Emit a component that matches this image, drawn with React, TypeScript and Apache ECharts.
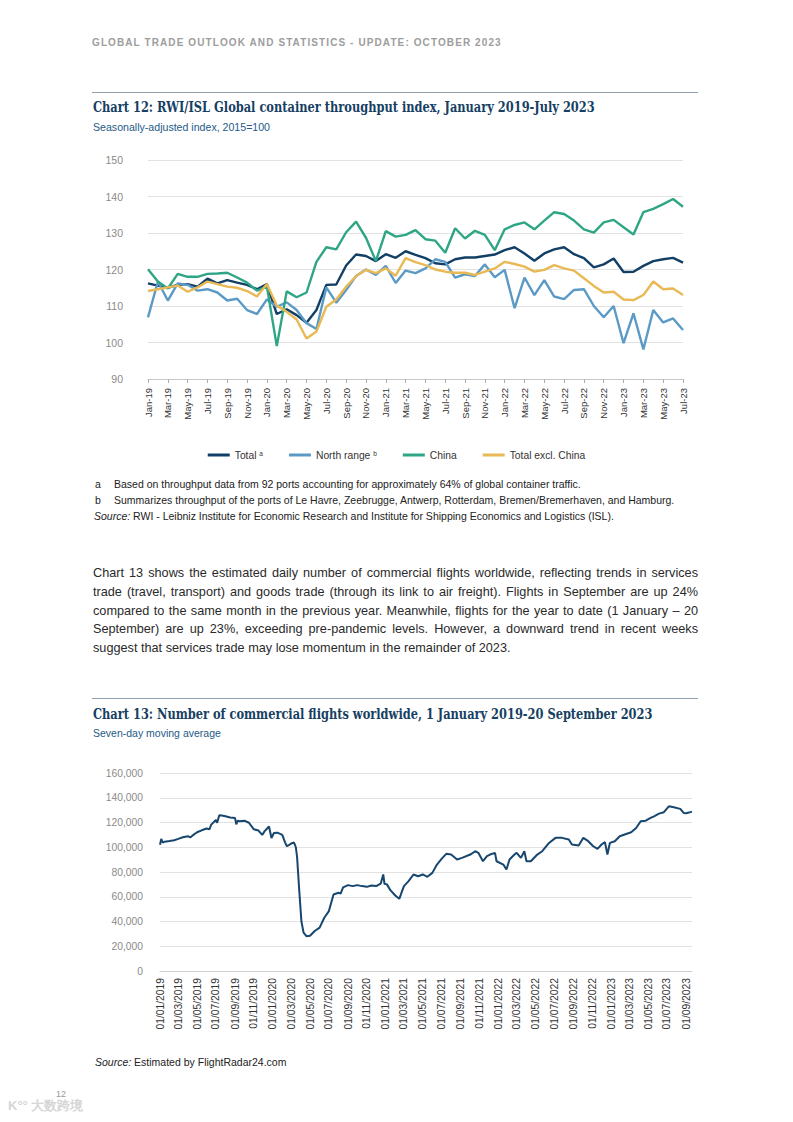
import React, { useEffect, useRef } from 'react';
import * as echarts from 'echarts';

// ---------- Chart 12 data ----------
const monthNames = ['Jan', 'Feb', 'Mar', 'Apr', 'May', 'Jun', 'Jul', 'Aug', 'Sep', 'Oct', 'Nov', 'Dec'];
const throughputMonths: string[] = [];
for (let y = 2019; y <= 2023; y++) {
  for (let m = 0; m < 12; m++) {
    if (y === 2023 && m > 6) break;
    throughputMonths.push(`${monthNames[m]}-${String(y).slice(2)}`);
  }
}
const throughputTicks = [90, 100, 110, 120, 130, 140, 150];

const totalSeries = [116.2, 115.6, 115.0, 115.8, 116.0, 115.3, 117.5, 116.2, 117.1, 116.4, 115.8, 114.6, 116.0,
  107.8, 109.1, 107.5, 105.4, 108.9, 115.8, 115.9, 121.1, 124.1, 123.7, 122.3, 124.2, 123.2,
  125.0, 124.0, 123.1, 121.7, 121.4, 122.8, 123.3, 123.3, 123.7, 124.1, 125.3, 126.1, 124.4,
  122.4, 124.4, 125.5, 126.1, 124.2, 123.1, 120.6, 121.4, 123.0, 119.3, 119.4, 121.0, 122.3, 122.8, 123.2, 121.9];

const northRangeSeries = [106.9, 116.7, 111.5, 116.2, 115.8, 114.2, 114.6, 113.7, 111.5, 112.0, 108.9, 107.8, 111.8,
  109.8, 111.0, 108.9, 105.3, 103.7, 115.1, 110.9, 114.4, 118.2, 120.0, 118.5, 121.0, 116.3,
  119.7, 119.0, 120.3, 122.8, 122.1, 117.8, 118.7, 118.2, 121.4, 117.9, 119.9, 109.4, 117.8,
  113.0, 117.1, 112.6, 111.9, 114.4, 114.6, 110.0, 106.9, 110.0, 99.8, 108.0, 98.1, 108.9, 105.5, 106.6, 103.4];

const chinaSeries = [120.1, 116.7, 114.8, 118.8, 118.0, 118.0, 118.8, 118.9, 119.1, 117.8, 116.4, 114.2, 115.3,
  99.0, 114.0, 112.4, 113.7, 122.1, 126.1, 125.5, 130.2, 133.1, 128.7, 122.3, 130.5, 129.0,
  129.5, 130.8, 128.3, 127.9, 124.6, 131.3, 128.5, 130.6, 129.5, 125.3, 131.0, 132.2, 132.9,
  131.0, 133.4, 135.7, 135.2, 133.4, 131.0, 130.1, 132.9, 133.6, 131.6, 129.6, 135.7, 136.6, 137.9, 139.3, 137.2];

const exChinaSeries = [114.1, 114.6, 115.1, 115.6, 113.9, 115.1, 116.7, 116.0, 115.3, 115.0, 114.1, 112.6, 116.0,
  110.1, 108.4, 106.3, 101.1, 103.0, 109.8, 111.8, 115.3, 118.2, 119.9, 119.0, 120.3, 118.3,
  123.1, 122.0, 121.2, 120.0, 119.4, 119.1, 119.1, 118.5, 119.4, 120.3, 122.1, 121.5, 120.8,
  119.4, 119.9, 121.2, 120.3, 119.7, 117.6, 115.5, 113.7, 113.9, 111.8, 111.6, 113.0, 116.7, 114.6, 114.8, 113.0];

// ---------- Chart 13 data ----------
const flightDates = [
  '2019-01-01', '2019-01-05', '2019-01-10', '2019-01-16', '2019-02-01', '2019-02-16', '2019-03-01', '2019-03-16',
  '2019-04-01', '2019-04-10', '2019-04-16', '2019-05-01', '2019-05-16', '2019-06-01', '2019-06-10', '2019-06-16',
  '2019-07-01', '2019-07-05', '2019-07-12', '2019-07-20', '2019-08-01', '2019-08-16', '2019-09-01', '2019-09-05',
  '2019-09-10', '2019-09-16', '2019-10-01', '2019-10-16', '2019-11-01', '2019-11-16', '2019-11-28', '2019-12-06',
  '2019-12-20', '2019-12-28', '2020-01-05', '2020-01-16', '2020-02-01', '2020-02-10', '2020-02-16', '2020-03-01',
  '2020-03-10', '2020-03-16', '2020-03-20', '2020-03-27', '2020-04-03', '2020-04-10', '2020-04-20', '2020-05-01',
  '2020-05-16', '2020-06-01', '2020-06-16', '2020-07-01', '2020-07-16', '2020-08-01', '2020-08-08', '2020-08-16',
  '2020-09-01', '2020-09-16', '2020-10-01', '2020-10-16', '2020-11-01', '2020-11-16', '2020-12-01', '2020-12-16',
  '2020-12-24', '2020-12-28', '2021-01-05', '2021-01-16', '2021-02-01', '2021-02-14', '2021-02-23', '2021-03-01',
  '2021-03-16', '2021-04-01', '2021-04-16', '2021-05-01', '2021-05-16', '2021-06-01', '2021-06-16', '2021-07-01',
  '2021-07-16', '2021-08-01', '2021-08-20', '2021-09-05', '2021-10-02', '2021-10-18', '2021-10-28', '2021-11-12',
  '2021-11-25', '2021-12-05', '2021-12-21', '2021-12-26', '2022-01-17', '2022-01-27', '2022-02-06', '2022-02-22',
  '2022-03-01', '2022-03-15', '2022-03-26', '2022-04-02', '2022-04-16', '2022-05-07', '2022-05-23', '2022-06-14',
  '2022-07-05', '2022-07-26', '2022-08-17', '2022-08-27', '2022-09-18', '2022-10-03', '2022-10-19', '2022-11-04',
  '2022-11-18', '2022-12-01', '2022-12-12', '2022-12-20', '2022-12-28', '2023-01-13', '2023-01-29', '2023-02-14',
  '2023-03-07', '2023-03-23', '2023-04-07', '2023-04-23', '2023-05-09', '2023-05-20', '2023-06-05', '2023-06-21',
  '2023-07-07', '2023-07-23', '2023-08-13', '2023-08-24', '2023-09-01', '2023-09-10', '2023-09-20'];

const flightValues = [
  102000, 106800, 103800, 104500, 105000, 105700, 106800, 108100,
  108900, 108000, 109400, 112100, 113700, 115100, 114500, 118300,
  122000, 119800, 125800, 125600, 125000, 124000, 123700, 118500,
  121500, 121000, 121500, 119800, 114500, 113500, 110000, 113000,
  116800, 107500, 111500, 111800, 110000, 104000, 100800, 103000,
  103800, 100000, 92000, 65000, 40000, 31000, 28000, 28500,
  32300, 35000, 43000, 48400, 61800, 63200, 62500, 67500,
  69400, 68600, 69400, 68600, 68000, 69100, 68600, 70700,
  78000, 70500, 70000, 65300, 61000, 58300, 64500, 68600,
  72600, 78000, 76600, 78000, 76100, 79300, 86000, 90600,
  94700, 94100, 90100, 91400, 94100, 96800, 95500, 88700,
  92800, 94100, 95500, 88700, 86000, 82000, 90100, 94100,
  95500, 91400, 96800, 88700, 88700, 94100, 96800, 103500,
  107600, 107600, 106200, 102200, 101400, 107600, 104900, 100800,
  98700, 102200, 104100, 94100, 103500, 104900, 108900, 110300,
  112100, 115600, 121000, 121500, 123700, 125000, 127200, 128300,
  133100, 132300, 131000, 127700, 127500, 128000, 128800];
const flightTicks = [0, 20000, 40000, 60000, 80000, 100000, 120000, 140000, 160000];

const SANS = "'Liberation Sans', Arial, Helvetica, sans-serif";
const TITLE = "'DejaVu Serif Condensed', 'DejaVu Serif', 'Liberation Serif', serif";

function buildDaily() {
  const cats: string[] = [];
  const keys: string[] = [];
  const start = Date.UTC(2019, 0, 1);
  const end = Date.UTC(2023, 8, 20);
  for (let t = start; t <= end; t += 86400000) {
    const d = new Date(t);
    const yyyy = d.getUTCFullYear();
    const mm = String(d.getUTCMonth() + 1).padStart(2, '0');
    const dd = String(d.getUTCDate()).padStart(2, '0');
    cats.push(`${dd}/${mm}/${yyyy}`);
    keys.push(`${yyyy}-${mm}-${dd}`);
  }
  const map: Record<string, number> = {};
  flightDates.forEach((k, i) => { map[k] = flightValues[i]; });
  const data = keys.map((k) => (k in map ? map[k] : null));
  return { cats, data };
}

function Chart12() {
  const ref = useRef<HTMLDivElement>(null);
  useEffect(() => {
    const chart = echarts.init(ref.current!, null, { renderer: 'svg' });
    const mk = (name: string, data: number[], color: string) => ({
      name, type: 'line', data, symbol: 'none', showSymbol: false,
      lineStyle: { color, width: 2.4 }, itemStyle: { color },
    });
    chart.setOption({
      animation: false,
      grid: { left: 148, right: 110, top: 10, bottom: 91 },
      legend: {
        left: 'center', top: 295, itemWidth: 22, itemHeight: 3, itemGap: 26, icon: 'rect',
        data: ['Total', 'North range', 'China', 'Total excl. China'],
        formatter: (n: string) => (n === 'Total' ? 'Total {sup|a}' : n === 'North range' ? 'North range {sup|b}' : n),
        textStyle: {
          fontFamily: SANS, fontSize: 10.3, color: '#333',
          rich: { sup: { fontSize: 6.5, verticalAlign: 'top', color: '#333', fontFamily: SANS } },
        },
      },
      xAxis: {
        type: 'category', data: throughputMonths, boundaryGap: false,
        axisLine: { lineStyle: { color: '#c8c8c8' } },
        axisTick: { show: true, interval: 1, length: 4, lineStyle: { color: '#b0b0b0' } },
        axisLabel: { interval: 1, rotate: 90, fontSize: 9.5, color: '#333', fontFamily: SANS, margin: 9 },
      },
      yAxis: {
        type: 'value', min: throughputTicks[0], max: throughputTicks[throughputTicks.length - 1], interval: 10,
        axisLine: { show: false }, axisTick: { show: false },
        splitLine: { lineStyle: { color: '#e2e2e2', width: 1 } },
        axisLabel: { fontSize: 10.5, color: '#8a8a8a', fontFamily: SANS, margin: 25 },
      },
      series: [
        mk('Total', totalSeries, '#123f66'),
        mk('North range', northRangeSeries, '#5c9ac6'),
        mk('China', chinaSeries, '#2ea585'),
        mk('Total excl. China', exChinaSeries, '#e8b955'),
      ],
    });
    return () => chart.dispose();
  }, []);
  return <div ref={ref} style={{ position: 'absolute', left: 0, top: 150, width: 793, height: 320 }} />;
}

function Chart13() {
  const ref = useRef<HTMLDivElement>(null);
  useEffect(() => {
    const chart = echarts.init(ref.current!, null, { renderer: 'svg' });
    const { cats, data } = buildDaily();
    const isLabel = (_i: number, v: string) => v.startsWith('01/') && parseInt(v.slice(3, 5), 10) % 2 === 1;
    chart.setOption({
      animation: false,
      grid: { left: 160, right: 101, top: 13, bottom: 89 },
      xAxis: {
        type: 'category', data: cats, boundaryGap: false,
        axisLine: { lineStyle: { color: '#d0d0d0' } },
        axisTick: { show: false },
        axisLabel: { interval: isLabel, rotate: 90, fontSize: 10.3, color: '#333', fontFamily: SANS, margin: 7 },
      },
      yAxis: {
        type: 'value', min: flightTicks[0], max: flightTicks[flightTicks.length - 1], interval: 20000,
        axisLine: { show: false }, axisTick: { show: false },
        splitLine: { lineStyle: { color: '#e2e2e2', width: 1 } },
        axisLabel: {
          fontSize: 10.3, color: '#8a8a8a', fontFamily: SANS, margin: 17,
          formatter: (v: number) => v.toLocaleString('en-US'),
        },
      },
      series: [{
        type: 'line', data, connectNulls: true, symbol: 'none', showSymbol: false,
        lineStyle: { color: '#17466e', width: 2 },
      }],
    });
    return () => chart.dispose();
  }, []);
  return <div ref={ref} style={{ position: 'absolute', left: 0, top: 760, width: 793, height: 300 }} />;
}

function Txt(props: { x: number; y: number; size: number; children: React.ReactNode; style?: React.CSSProperties }) {
  const { x, y, size, children, style } = props;
  return (
    <div style={{ position: 'absolute', left: x, top: y - size * 0.6, fontSize: size, lineHeight: 1.2, whiteSpace: 'nowrap', fontFamily: SANS, ...style }}>
      {children}
    </div>
  );
}

const paragraphLines = [
  'Chart 13 shows the estimated daily number of commercial flights worldwide, reflecting trends in services',
  'trade (travel, transport) and goods trade (through its link to air freight). Flights in September are up 24%',
  'compared to the same month in the previous year. Meanwhile, flights for the year to date (1 January – 20',
  'September) are up 23%, exceeding pre-pandemic levels. However, a downward trend in recent weeks',
  'suggest that services trade may lose momentum in the remainder of 2023.',
];
const paragraphY = [573, 592, 611, 629.5, 648];

const titleStyle: React.CSSProperties = {
  color: '#173f63', fontWeight: 700, fontFamily: TITLE, transform: 'scaleX(0.905)', transformOrigin: 'left center',
};

export default function App() {
  return (
    <div style={{ position: 'absolute', left: 0, top: 0, width: 793, height: 1122, background: '#fff', overflow: 'hidden', fontFamily: SANS }}>
      <Txt x={92} y={43} size={10} style={{ color: '#9d9d9d', fontWeight: 700, letterSpacing: 1.1 }}>
        GLOBAL TRADE OUTLOOK AND STATISTICS - UPDATE: OCTOBER 2023
      </Txt>
      <div style={{ position: 'absolute', left: 92, top: 92, width: 606, height: 1, background: '#8fa0b0' }} />
      <Txt x={93} y={107} size={14} style={titleStyle}>
        Chart 12: RWI/ISL Global container throughput index, January 2019-July 2023
      </Txt>
      <Txt x={93} y={127} size={10.6} style={{ color: '#245a87' }}>Seasonally-adjusted index, 2015=100</Txt>

      <Chart12 />

      <Txt x={95} y={484} size={10.5} style={{ color: '#222' }}>a</Txt>
      <Txt x={114} y={484} size={10.5} style={{ color: '#222' }}>
        Based on throughput data from 92 ports accounting for approximately 64% of global container traffic.
      </Txt>
      <Txt x={95} y={500} size={10.5} style={{ color: '#222' }}>b</Txt>
      <Txt x={114} y={500} size={10.5} style={{ color: '#222' }}>
        Summarizes throughput of the ports of Le Havre, Zeebrugge, Antwerp, Rotterdam, Bremen/Bremerhaven, and Hamburg.
      </Txt>
      <Txt x={94} y={516} size={10.5} style={{ color: '#222' }}>
        <i>Source:</i> RWI - Leibniz Institute for Economic Research and Institute for Shipping Economics and Logistics (ISL).
      </Txt>

      {paragraphLines.map((l, i) => (
        <div key={i} style={{
          position: 'absolute', left: 93, width: 605, top: paragraphY[i] - 7.5, fontSize: 12.7, lineHeight: '15px',
          color: '#2a2a2a', whiteSpace: 'nowrap', textAlign: 'justify',
          textAlignLast: i === paragraphLines.length - 1 ? 'left' : 'justify',
        } as React.CSSProperties}>{l}</div>
      ))}

      <div style={{ position: 'absolute', left: 92, top: 698, width: 606, height: 1, background: '#8fa0b0' }} />
      <Txt x={93} y={714} size={14} style={titleStyle}>
        Chart 13: Number of commercial flights worldwide, 1 January 2019-20 September 2023
      </Txt>
      <Txt x={93} y={733} size={10.5} style={{ color: '#245a87' }}>Seven-day moving average</Txt>

      <Chart13 />

      <Txt x={95} y={1062} size={10.5} style={{ color: '#222' }}>
        <i>Source:</i> Estimated by FlightRadar24.com
      </Txt>
      <Txt x={56} y={1094} size={9} style={{ color: '#999' }}>12</Txt>
      <Txt x={8} y={1106} size={13} style={{ color: '#d6d6d6', fontWeight: 700 }}>K°° 大数跨境</Txt>
    </div>
  );
}
